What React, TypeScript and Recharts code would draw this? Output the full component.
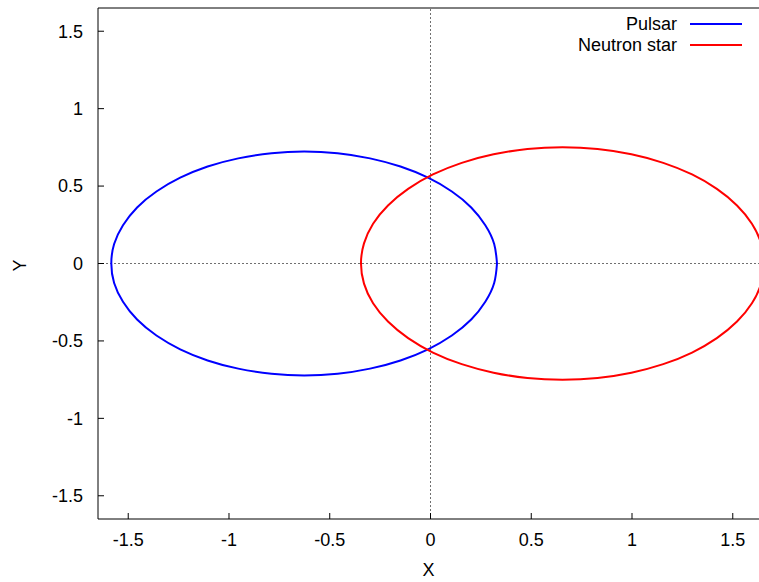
import React from 'react'
import { LineChart, Line, XAxis, YAxis, ReferenceLine } from 'recharts'

// orbit samples, every 10 degrees around each ellipse
const pulsarX = [
  0.33, 0.316, 0.272, 0.202, 0.106, -0.012, -0.149, -0.3, -0.461, -0.627, -0.789, -0.954, -1.106,
  -1.242, -1.36, -1.456, -1.526, -1.57, -1.584, -1.57, -1.526, -1.456, -1.36, -1.242, -1.106,
  -0.954, -0.789, -0.627, -0.461, -0.3, -0.149, -0.012, 0.106, 0.202, 0.272, 0.316, 0.33,
]
const pulsarY = [
  0, 0.126, 0.247, 0.362, 0.465, 0.554, 0.626, 0.679, 0.712, 0.723, 0.712, 0.679, 0.626, 0.554,
  0.465, 0.362, 0.247, 0.126, 0, -0.126, -0.247, -0.362, -0.465, -0.554, -0.626, -0.679, -0.712,
  -0.723, -0.712, -0.679, -0.626, -0.554, -0.465, -0.362, -0.247, -0.126, 0,
]
const neutronX = [
  1.655, 1.64, 1.595, 1.521, 1.421, 1.298, 1.155, 0.997, 0.829, 0.655, 0.481, 0.313, 0.155, 0.012,
  -0.111, -0.211, -0.285, -0.33, -0.345, -0.33, -0.285, -0.211, -0.111, 0.012, 0.155, 0.313, 0.481,
  0.655, 0.829, 0.997, 1.155, 1.298, 1.421, 1.521, 1.595, 1.64, 1.655,
]
const neutronY = [
  0, 0.13, 0.257, 0.375, 0.482, 0.575, 0.65, 0.705, 0.739, 0.75, 0.739, 0.705, 0.65, 0.575, 0.482,
  0.375, 0.257, 0.13, 0, -0.13, -0.257, -0.375, -0.482, -0.575, -0.65, -0.705, -0.739, -0.75,
  -0.739, -0.705, -0.65, -0.575, -0.482, -0.375, -0.257, -0.13, 0,
]

const xTicks = [-1.5, -1, -0.5, 0, 0.5, 1, 1.5]
const yTicks = [-1.5, -1, -0.5, 0, 0.5, 1, 1.5]
const axisRange = [-1.65, 1.65]

const series = [
  { name: 'Pulsar', color: '#0000ff', xs: pulsarX, ys: pulsarY },
  { name: 'Neutron star', color: '#ff0000', xs: neutronX, ys: neutronY },
]

const font = '"Liberation Sans", Arial, sans-serif'
const fontSize = 18

const YLabel = (props: any) => {
  const vb = props.viewBox
  return (
    <text
      transform={`translate(26, ${vb.y + vb.height / 2 + 2}) rotate(-90)`}
      textAnchor="middle"
      fontSize={fontSize}
      fontFamily={font}
      fill="#000"
    >
      Y
    </text>
  )
}

const XLabel = (props: any) => {
  const vb = props.viewBox
  return (
    <text x={vb.x + vb.width / 2 - 2} y={576} textAnchor="middle" fontSize={fontSize} fontFamily={font} fill="#000">
      X
    </text>
  )
}

export default function App() {
  const lines = series.map((s) => ({
    ...s,
    points: s.xs.map((x, i) => ({ x, y: s.ys[i] })),
  }))

  return (
    <div
      style={{
        position: 'absolute',
        left: 0,
        top: 0,
        width: 759,
        height: 582,
        overflow: 'hidden',
        background: '#fff',
        fontFamily: font,
      }}
    >
      <LineChart width={764} height={582} margin={{ top: 8, right: 1, bottom: 0, left: 0 }}>
        <XAxis
          type="number"
          dataKey="x"
          domain={axisRange}
          allowDataOverflow
          ticks={xTicks}
          interval={0}
          height={63}
          tickSize={-6}
          tickMargin={20}
          stroke="#000"
          tick={{ fontSize, fill: '#000', fontFamily: font }}
          label={<XLabel />}
        />
        <YAxis
          type="number"
          dataKey="y"
          domain={axisRange}
          allowDataOverflow
          ticks={yTicks}
          interval={0}
          width={98}
          tickSize={-6}
          tickMargin={21}
          stroke="#000"
          tick={{ fontSize, fill: '#000', fontFamily: font }}
          label={<YLabel />}
        />
        <ReferenceLine y={1.65} stroke="#000" strokeWidth={1} />
        <ReferenceLine x={0} stroke="#707070" strokeDasharray="2 2" />
        <ReferenceLine y={0} stroke="#707070" strokeDasharray="2 2" />
        {lines.map((s) => (
          <Line
            key={s.name}
            data={s.points}
            dataKey="y"
            type="natural"
            stroke={s.color}
            strokeWidth={2}
            dot={false}
            activeDot={false}
            isAnimationActive={false}
          />
        ))}
      </LineChart>
      {series.map((s, i) => (
        <div key={s.name}>
          <div
            style={{
              position: 'absolute',
              right: 82,
              top: 24 + i * 21 - 11,
              height: 22,
              lineHeight: '22px',
              fontSize,
              color: '#000',
              whiteSpace: 'nowrap',
            }}
          >
            {s.name}
          </div>
          <div
            style={{
              position: 'absolute',
              left: 690,
              width: 52,
              top: 24 + i * 21 - 1,
              height: 2,
              background: s.color,
            }}
          />
        </div>
      ))}
    </div>
  )
}
